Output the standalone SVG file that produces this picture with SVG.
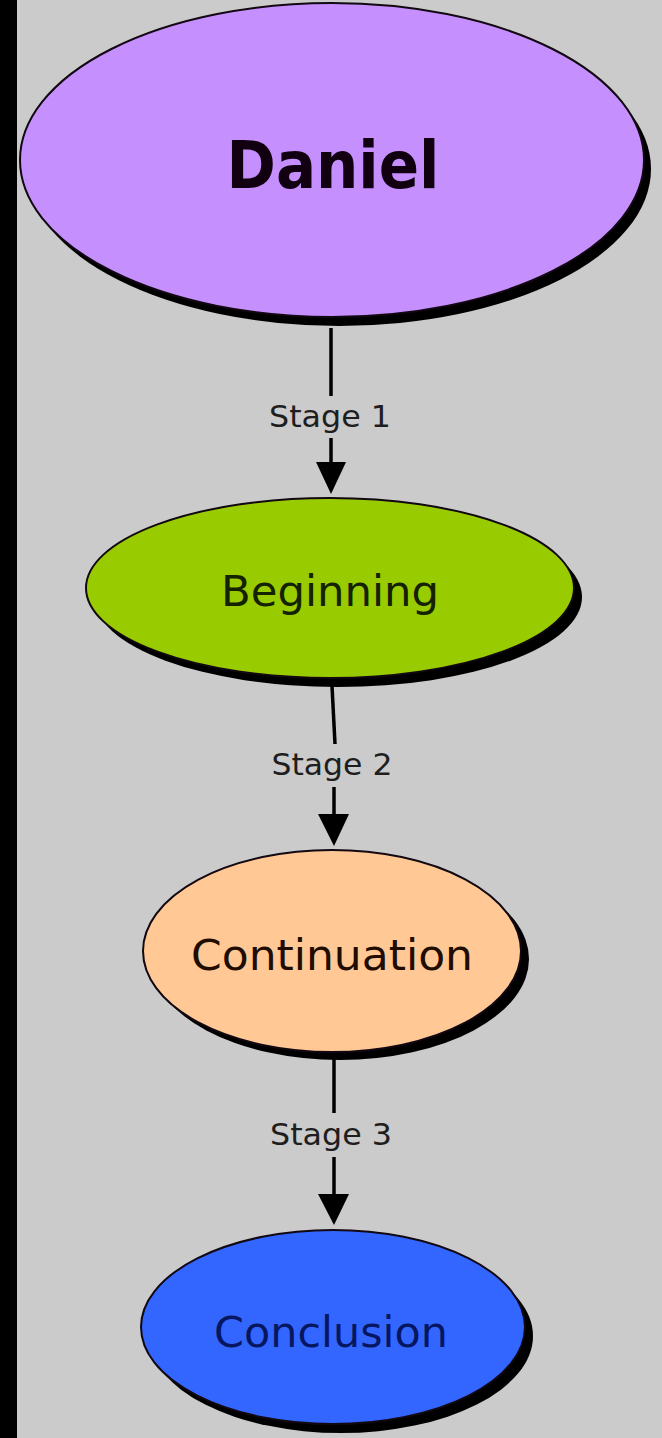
<svg xmlns="http://www.w3.org/2000/svg" width="662" height="1438" viewBox="0 0 662 1438">
  <style>
    .shadow { fill: #000; }
    .node-outline { stroke: #120812; stroke-width: 2; }
    .label { font-family: "DejaVu Sans", Verdana, sans-serif; text-anchor: middle; }
    .node-label { font-size: 43px; }
    .edge-label { font-family: "DejaVu Sans", Verdana, sans-serif; font-size: 30px; fill: #1e1e1e; text-anchor: middle; }
    .edge { stroke: #000; stroke-width: 3.5; fill: none; }
  </style>
  <defs>
    <marker id="arrow" viewBox="0 0 30 30" refX="15" refY="30" markerWidth="30" markerHeight="30" markerUnits="userSpaceOnUse" orient="auto-start-reverse">
      <path d="M0,0 L30,0 L15,30 Z" fill="#000"/>
    </marker>
  </defs>

  <!-- page background and left border strip -->
  <rect x="0" y="0" width="662" height="1438" fill="#cbcbcb"/>
  <rect x="0" y="0" width="17" height="1438" fill="#000"/>

  <!-- connectors -->
  <g id="connectors">
    <line class="edge" x1="331" y1="328" x2="331" y2="396"/>
    <line class="edge" x1="331" y1="438" x2="331" y2="464"/>
    <path d="M316,462 L346,462 L331,494 Z" fill="#000"/>
    <text class="edge-label" x="330" y="427" textLength="122" lengthAdjust="spacingAndGlyphs">Stage 1</text>

    <line class="edge" x1="332" y1="686" x2="335" y2="744"/>
    <line class="edge" x1="334" y1="787" x2="334" y2="816"/>
    <path d="M318,814 L349,814 L334,846 Z" fill="#000"/>
    <text class="edge-label" x="332" y="775" textLength="121" lengthAdjust="spacingAndGlyphs">Stage 2</text>

    <line class="edge" x1="334" y1="1058" x2="334" y2="1113"/>
    <line class="edge" x1="334" y1="1157" x2="334" y2="1196"/>
    <path d="M318,1194 L349,1194 L334,1225 Z" fill="#000"/>
    <text class="edge-label" x="331" y="1145" textLength="122" lengthAdjust="spacingAndGlyphs">Stage 3</text>
  </g>

  <!-- Daniel -->
  <g id="node-daniel">
    <ellipse class="shadow" cx="339" cy="169" rx="312" ry="157"/>
    <ellipse class="node-outline" cx="332" cy="160" rx="312" ry="157" fill="#c590fe"/>
    <text class="label" x="333" y="188" font-size="66" font-weight="bold" fill="#100010" textLength="213" lengthAdjust="spacingAndGlyphs">Daniel</text>
  </g>

  <!-- Beginning -->
  <g id="node-beginning">
    <ellipse class="shadow" cx="338" cy="597" rx="244" ry="90"/>
    <ellipse class="node-outline" cx="330" cy="588" rx="244" ry="90" fill="#99cc00"/>
    <text class="label node-label" x="330" y="606" fill="#142200" textLength="218" lengthAdjust="spacingAndGlyphs">Beginning</text>
  </g>

  <!-- Continuation -->
  <g id="node-continuation">
    <ellipse class="shadow" cx="340" cy="959" rx="189" ry="101"/>
    <ellipse class="node-outline" cx="332" cy="951" rx="189" ry="101" fill="#ffc895"/>
    <text class="label node-label" x="332" y="970" fill="#200c00" textLength="282" lengthAdjust="spacingAndGlyphs">Continuation</text>
  </g>

  <!-- Conclusion -->
  <g id="node-conclusion">
    <ellipse class="shadow" cx="341" cy="1336" rx="192" ry="97"/>
    <ellipse class="node-outline" cx="333" cy="1327" rx="192" ry="97" fill="#3366ff"/>
    <text class="label node-label" x="331" y="1347" fill="#061660" textLength="234" lengthAdjust="spacingAndGlyphs">Conclusion</text>
  </g>
</svg>
